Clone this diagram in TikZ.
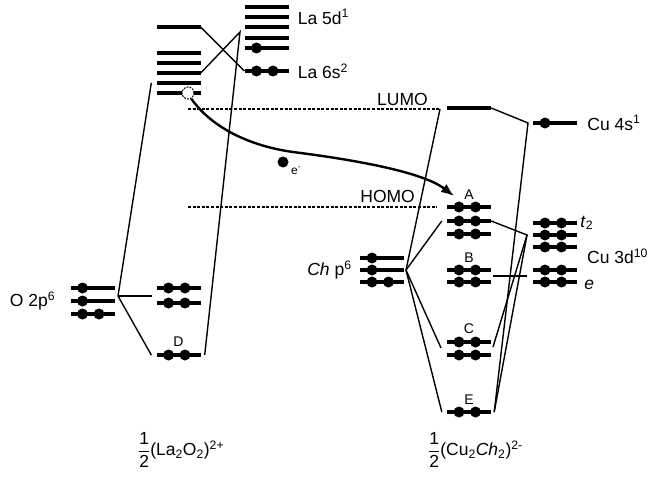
\documentclass[tikz,border=0pt]{standalone}
\usepackage{amsmath}
\usepackage{fontspec}
\setmainfont{Liberation Sans}
\usetikzlibrary{arrows.meta, positioning}

\begin{document}
\begin{tikzpicture}[
    x=1pt, y=-1pt,
    level/.style={rectangle, fill, inner sep=0pt, minimum width=44pt, minimum height=4.6pt},
    elec/.style={circle, fill, inner sep=0pt, minimum size=11pt},
    vacancy/.style={circle, draw, fill=white, dash pattern=on 1.8pt off 1.2pt, line width=1.1pt, inner sep=0pt, minimum size=12pt},
    link/.style={line width=1.4pt},
    guide/.style={line width=1.4pt, dash pattern=on 3pt off 1.6pt},
    txt/.style={inner sep=0pt, font=\fontsize{17.5}{20}\selectfont},
    tag/.style={inner sep=0pt, font=\fontsize{14}{16}\selectfont},
    arrow/.style={-{Latex[length=13pt, width=10pt]}, line width=2.4pt}
]
\useasboundingbox (0,0) rectangle (647,476);

% La2O2 levels
\node[level] (la0) at (178.5,27) {};
\foreach \n/\y in {1/53, 2/63, 3/73, 4/83, 5/93}
  \node[level] (la\n) at (178.5,\y) {};
\node[level] (lo1) at (178.5,288) {};
\node[level] (lo2) at (178.5,303) {};
\node[level] (lD) at (178.5,355) {};

% La atom
\foreach \n/\y in {1/7, 2/17, 3/27, 4/38, 5/48}
  \node[level] (d\n) at (266.5,\y) {};
\node[level] (s6) at (266.5,71) {};

% O atom
\foreach \n/\y in {1/288, 2/301, 3/314}
  \node[level] (o\n) at (92.5,\y) {};

% Ch atom
\foreach \n/\y in {1/258, 2/270, 3/282}
  \node[level] (ch\n) at (382,\y) {};

% Cu2Ch2 levels
\node[level] (lumo) at (469,108) {};
\foreach \n/\y in {1/207, 2/221, 3/234}
  \node[level] (A\n) at (469,\y) {};
\foreach \n/\y in {1/270, 2/282}
  \node[level] (B\n) at (469,\y) {};
\foreach \n/\y in {1/342, 2/355}
  \node[level] (C\n) at (469,\y) {};
\node[level] (E) at (469,412) {};

% Cu atom
\node[level] (s4) at (555,123) {};
\foreach \n/\y in {1/223, 2/235, 3/247}
  \node[level] (t\n) at (555,\y) {};
\foreach \n/\y in {1/270, 2/282}
  \node[level] (eg\n) at (555,\y) {};

% electrons
\foreach \l in {lo1, lo2, lD, s6, o3, ch3, A1, A2, A3, B1, B2, C1, C2, E, t1, t2, t3, eg1, eg2} {
  \node[elec] (\l-a) at ([xshift=-10pt]\l.center) {};
  \node[elec] (\l-b) at ([xshift=6.5pt]\l.center) {};
}
\foreach \l in {d5, o1, o2, ch1, ch2, s4}
  \node[elec] (\l-a) at ([xshift=-10pt]\l.center) {};

\node[vacancy] (hole) at ([xshift=9.5pt]la5.center) {};

% free ends of the correlation lines
\coordinate (d5apex) at (240,32);
\coordinate (oapex) at (118,296);
\coordinate (omid) at (152,296);
\coordinate (lumoend) at (440,109);
\coordinate (homoend) at (437,207);
\coordinate (chapex) at (406,270);
\coordinate (cin) at (441,348);
\coordinate (s4apex) at (528,123);
\coordinate (t2apex) at (527,235);
\coordinate (cout) at (493,347);
\coordinate (bout) at (493,276);
\coordinate (ein) at (527,276);
\coordinate (atip) at (454,196);

\draw[link] (la0.east) -- (s6.west);
\draw[link] (la3.east) -- (d5apex) -- ([xshift=4pt]lD.east);
\draw[link] ([xshift=-5pt]la4.west) -- (oapex) -- ([xshift=-5pt]lD.west);
\draw[link] (oapex) -- (omid);

\draw[guide] (hole |- lumoend) -- (lumoend);
\draw[guide] (hole |- homoend) -- (homoend);

\draw[link] (lumoend) -- (chapex);
\draw[link] (chapex) -- ([xshift=-5pt]A2.west);
\draw[link] (chapex) -- (cin);
\draw[link] (chapex) -- ([xshift=-5pt]E.west);
\draw[link] (lumo.east) -- (s4apex) -- ([xshift=3pt]E.east);
\draw[link] (A2.east) -- (t2apex) -- (cout);
\draw[link] (t2apex) -- ([xshift=3pt]E.east);
\draw[link] (bout) -- (ein);

% electron transfer
\draw[arrow] (hole.-60) .. controls (212,128) and (250,146) .. (293,152)
  .. controls (340,158) and (420,170) .. (atip);
\node[elec] (emove) at (283,162) {};
\node[tag, font=\fontsize{12}{14}\selectfont, anchor=west] (etag) at (291,171) {e\textsuperscript{-}};

% labels
\node[txt, right=9pt of d2] (la5d) {La 5d\textsuperscript{1}};
\node[txt, right=9pt of s6] (la6s) {La 6s\textsuperscript{2}};
\node[txt, anchor=south east] (lumotag) at (428,106) {LUMO};
\node[txt, anchor=south east] (homotag) at (415,203) {HOMO};
\node[txt, right=10pt of s4] (cu4s) {Cu 4s\textsuperscript{1}};
\node[txt, right=3pt of t1] (t2tag) {\textit{t}\textsubscript{2}};
\node[txt, anchor=west] (cu3d) at (587,256) {Cu 3d\textsuperscript{10}};
\node[txt, right=7pt of eg2, yshift=-3pt] (etag2) {\textit{e}};
\node[txt, left=8pt of ch2] (chp) {\textit{Ch} p\textsuperscript{6}};
\node[txt, left=15pt of o2] (o2p) {O 2p\textsuperscript{6}};

\node[tag, above=5pt of A1] (tagA) {A};
\node[tag, above=5pt of B1] (tagB) {B};
\node[tag, above=6pt of C1] (tagC) {C};
\node[tag, above=6pt of lD] (tagD) {D};
\node[tag, above=5pt of E] (tagE) {E};

\node[txt, anchor=west] (laotag) at (138,450) {$\dfrac{\text{1}}{\text{2}}$(La\textsubscript{2}O\textsubscript{2})\textsuperscript{2+}};
\node[txt, anchor=west] (cuchtag) at (428,450) {$\dfrac{\text{1}}{\text{2}}$(Cu\textsubscript{2}\textit{Ch}\textsubscript{2})\textsuperscript{2-}};
\end{tikzpicture}
\end{document}
